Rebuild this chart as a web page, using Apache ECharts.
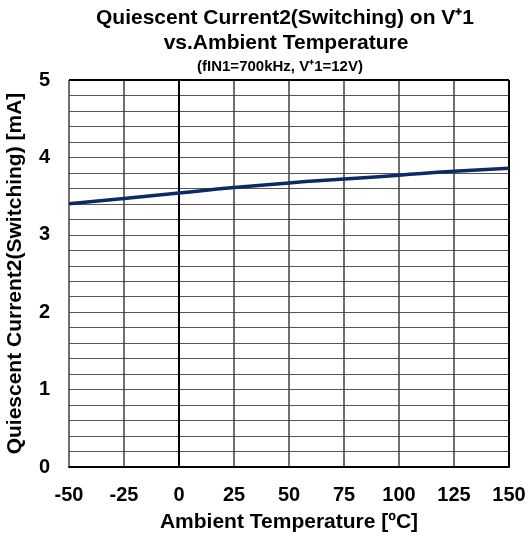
<!DOCTYPE html>
<html><head><meta charset="utf-8">
<script src="https://cdn.jsdelivr.net/npm/echarts@6/dist/echarts.min.js"></script>
<style>html,body{margin:0;padding:0;background:#fff}#c{width:529px;height:538px}</style>
</head><body><div id="c"></div>
<script>
const temps = [-50, -25, 0, 25, 50, 75, 100, 125, 150];
const current = [3.40, 3.47, 3.54, 3.61, 3.67, 3.72, 3.77, 3.82, 3.86];
const xTicks = [-50, -25, 0, 25, 50, 75, 100, 125, 150];
const yTicks = [0, 1, 2, 3, 4, 5];
const titleLine1 = 'Quiescent Current2(Switching) on V\u207A1';
const titleLine2 = 'vs.Ambient Temperature';
const titleLine3 = '(fIN1=700kHz, V\u207A1=12V)';
const xName = 'Ambient Temperature [\u00BAC]';
const yName = 'Quiescent Current2(Switching) [mA]';

const F = '"Liberation Sans", Arial, sans-serif';
const chart = echarts.init(document.getElementById('c'));
chart.setOption({
  animation: false,
  backgroundColor: '#fff',
  title: [
    {text: titleLine1, left: 280, top: 3, textAlign: 'center', textStyle: {fontFamily: F, fontWeight: 'bold', fontSize: 21, color: '#000'}},
    {text: titleLine2, left: 281, top: 28, textAlign: 'center', textStyle: {fontFamily: F, fontWeight: 'bold', fontSize: 21, color: '#000'}},
    {text: titleLine3, left: 275, top: 54, textAlign: 'center', textStyle: {fontFamily: F, fontWeight: 'bold', fontSize: 15, color: '#000'}}
  ],
  grid: {left: 69, right: 20, top: 80, bottom: 71, containLabel: false, outerBoundsMode: 'none'},
  xAxis: {
    type: 'value', min: xTicks[0], max: xTicks[xTicks.length - 1], interval: 25,
    name: xName, nameLocation: 'middle', nameGap: 45,
    nameTextStyle: {fontFamily: F, fontWeight: 'bold', fontSize: 21, color: '#000', verticalAlign: 'top'},
    axisLine: {show: true, lineStyle: {color: '#000', width: 2}},
    axisTick: {show: false},
    axisLabel: {fontFamily: F, fontWeight: 'bold', fontSize: 20, color: '#000', margin: 18,
      formatter: v => xTicks.includes(v) ? String(v) : ''},
    splitLine: {show: true, lineStyle: {color: '#404040', width: 1.5}}
  },
  yAxis: {
    type: 'value', min: yTicks[0], max: yTicks[yTicks.length - 1], interval: 0.2,
    name: yName, nameLocation: 'middle', nameGap: 43,
    nameTextStyle: {fontFamily: F, fontWeight: 'bold', fontSize: 21, color: '#000'},
    axisLine: {show: true, lineStyle: {color: '#000', width: 2}},
    axisTick: {show: false},
    axisLabel: {fontFamily: F, fontWeight: 'bold', fontSize: 20, color: '#000', margin: 19,
      formatter: v => { const r = Math.round(v); return (Math.abs(v - r) < 1e-6 && yTicks.includes(r)) ? String(r) : ''; }},
    splitLine: {show: true, lineStyle: {color: '#555', width: 1}}
  },
  series: [{
    type: 'line', data: temps.map((t, i) => [t, current[i]]),
    showSymbol: false, smooth: true,
    lineStyle: {color: '#0b2a66', width: 3.5},
    markLine: {silent: true, symbol: 'none', label: {show: false},
      lineStyle: {color: '#000', width: 2, type: 'solid'}, data: [{xAxis: 0}]},
    z: 5
  }, {
    type: 'line', data: [], markLine: {silent: true, symbol: 'none', label: {show: false},
      lineStyle: {color: '#000', width: 2, type: 'solid'}, data: [{xAxis: 150}, {yAxis: 5}]}
  }]
});
</script></body></html>
